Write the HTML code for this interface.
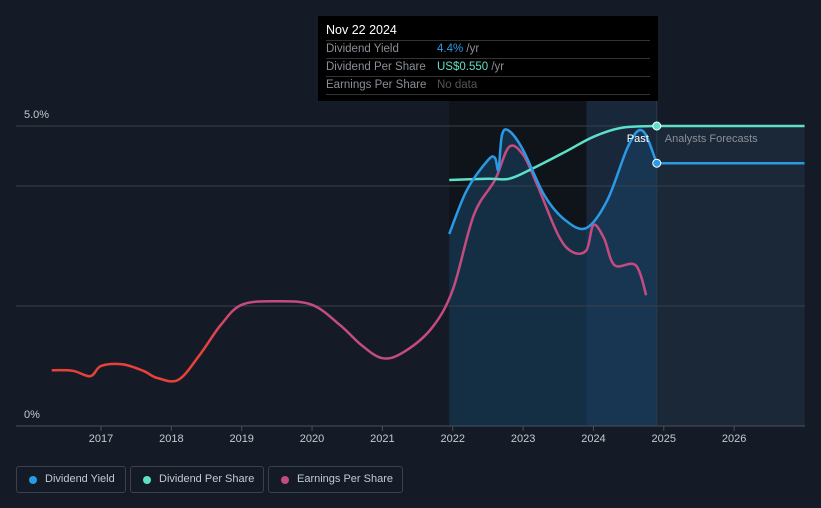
<!DOCTYPE html>
<html><head><meta charset="utf-8"><style>
body{margin:0;background:#151b26;width:821px;height:508px;overflow:hidden;font-family:"Liberation Sans",sans-serif}
svg{position:absolute;left:0;top:0}
.tip{position:absolute;left:318px;top:16px;width:340px;height:85px;background:#000;box-sizing:border-box;padding:7px 8px 0 8px;font-size:11.5px;color:#8a8f97}
.tip .h{color:#fff;font-size:12.5px;height:17px;border-bottom:1px solid #333}
.tip .r{height:17px;line-height:17px;border-bottom:1px solid #333;display:flex}
.tip .r span:first-child{width:111px}
.leg{position:absolute;top:466px;height:27px;border:1px solid #3b414b;border-radius:3px;box-sizing:border-box;color:#c5c9cf;font-size:11px;line-height:25px;padding-left:28px;white-space:nowrap}
.leg i{position:absolute;left:12px;top:9px;width:8px;height:8px;border-radius:50%}
</style></head><body>
<svg width="821" height="508" id="chart">
<defs>
<linearGradient id="eg" x1="0" x2="1" y1="0" y2="0"><stop offset="0" stop-color="#e8413a"/><stop offset="0.25" stop-color="#e8413a"/><stop offset="0.32" stop-color="#c44b80"/><stop offset="1" stop-color="#c44b80"/></linearGradient>
</defs>
<g id="bg"></g><g id="grid"></g><g id="lines"></g><g id="ax"></g>
</svg>
<div class="tip">
<div class="h">Nov 22 2024</div>
<div class="r"><span>Dividend Yield</span><span><b style="color:#2a9ae6;font-weight:normal">4.4%</b> /yr</span></div>
<div class="r"><span>Dividend Per Share</span><span><b style="color:#5ee0c8;font-weight:normal">US$0.550</b> /yr</span></div>
<div class="r"><span>Earnings Per Share</span><span style="color:#555">No data</span></div>
</div>
<div class="leg" style="left:16px;width:110px"><i style="background:#2a9ae6"></i>Dividend Yield</div>
<div class="leg" style="left:130px;width:134px"><i style="background:#5ee0c8"></i>Dividend Per Share</div>
<div class="leg" style="left:268px;width:135px"><i style="background:#c44b80"></i>Earnings Per Share</div>
<script>
const yearTicks=[2017,2018,2019,2020,2021,2022,2023,2024,2025,2026];
const epsX=[2016.3,2016.6,2016.85,2017.0,2017.3,2017.6,2017.8,2018.1,2018.4,2018.7,2019.0,2019.5,2020.0,2020.4,2020.7,2021.0,2021.3,2021.7,2022.0,2022.3,2022.6,2022.8,2023.0,2023.2,2023.5,2023.7,2023.9,2024.0,2024.15,2024.3,2024.6,2024.75];
const epsY=[0.93,0.92,0.83,1.0,1.03,0.92,0.8,0.77,1.18,1.68,2.02,2.08,2.02,1.68,1.35,1.13,1.23,1.63,2.27,3.52,4.1,4.65,4.52,4.02,3.18,2.9,2.93,3.35,3.13,2.68,2.68,2.18];
const dyX=[2021.95,2022.2,2022.5,2022.6,2022.65,2022.7,2022.8,2023.0,2023.3,2023.6,2023.9,2024.2,2024.5,2024.7,2024.9];
const dyY=[3.2,3.93,4.43,4.47,4.27,4.85,4.92,4.6,3.85,3.43,3.3,3.77,4.68,4.92,4.38];
const dpsX=[2021.95,2022.5,2022.8,2023.1,2023.6,2024.0,2024.4,2024.9];
const dpsY=[4.1,4.12,4.12,4.27,4.57,4.82,4.97,5.0];
const fcEnd=2027.0;
const X=v=>101+(v-2017)*70.35, Y=v=>426-v*60;
const NS="http://www.w3.org/2000/svg";
function mk(t,a,p){const e=document.createElementNS(NS,t);for(const k in a)e.setAttribute(k,a[k]);p.appendChild(e);return e}
function path(xs,ys){const p=xs.map((x,i)=>[X(x),Y(ys[i])]);let d="M"+p[0];for(let i=0;i<p.length-1;i++){const a=p[i-1]||p[i],b=p[i],c=p[i+1],e=p[i+2]||c;d+=`C${b[0]+(c[0]-a[0])/6},${b[1]+(c[1]-a[1])/6} ${c[0]-(e[0]-b[0])/6},${c[1]-(e[1]-b[1])/6} ${c[0]},${c[1]}`}return d}
const bg=document.getElementById('bg'),grid=document.getElementById('grid'),lines=document.getElementById('lines'),ax=document.getElementById('ax');
const x0=X(dyX[0]),xn=X(dyX[dyX.length-1]),xe=X(fcEnd);
let r=mk('rect',{x:x0,y:100,width:X(2023.9)-x0,height:326,fill:'#0f141b'},bg);
r=mk('rect',{x:X(2023.9),y:100,width:xn-X(2023.9),height:326,fill:'#18273a'},bg);
r=mk('rect',{x:xn,y:126,width:xe-xn,height:300,fill:'#1b2838'},bg);
r=mk('path',{d:path(dyX,dyY)+`L${xn},426L${x0},426Z`,fill:'#1a4466',opacity:0.55},bg);
[5,4,2].forEach(v=>{const l=mk('line',{x1:16,x2:805,y1:Y(v),y2:Y(v),stroke:'#3a404a','stroke-width':1},grid);});
let l=mk('line',{x1:16,x2:805,y1:426,y2:426,stroke:'#4a505a'},grid);
l=mk('line',{x1:xn,x2:xn,y1:100,y2:426,stroke:'#2a3c52'},grid);
let p=mk('path',{d:path(epsX,epsY),fill:'none',stroke:'url(#eg)','stroke-width':2.5},lines);
p=mk('path',{d:path(dpsX,dpsY)+`L${xe},${Y(dpsY[dpsY.length-1])}`,fill:'none',stroke:'#5ee0c8','stroke-width':2.5},lines);
p=mk('path',{d:path(dyX,dyY)+`L${xe},${Y(dyY[dyY.length-1])}`,fill:'none',stroke:'#2a9ae6','stroke-width':2.5},lines);
let c=mk('circle',{cx:xn,cy:Y(dpsY[dpsY.length-1]),r:4,fill:'#5ee0c8',stroke:'#fff','stroke-width':1},lines);
c=mk('circle',{cx:xn,cy:Y(dyY[dyY.length-1]),r:4,fill:'#2a9ae6',stroke:'#fff','stroke-width':1},lines);
yearTicks.forEach(y=>{const t=mk('text',{x:X(y),y:442,fill:'#c5c9cf','font-size':11,'text-anchor':'middle'},ax);t.textContent=y;
const k=mk('line',{x1:X(y),x2:X(y),y1:426,y2:431,stroke:'#4a505a'},ax);});
let t=mk('text',{x:24,y:118,fill:'#c5c9cf','font-size':11},ax);t.textContent='5.0%';
t=mk('text',{x:24,y:418,fill:'#c5c9cf','font-size':11},ax);t.textContent='0%';
t=mk('text',{x:xn-8,y:142,fill:'#fff','font-size':11,'text-anchor':'end'},ax);t.textContent='Past';
t=mk('text',{x:xn+8,y:142,fill:'#8a8f97','font-size':11},ax);t.textContent='Analysts Forecasts';
</script>
</body></html>
